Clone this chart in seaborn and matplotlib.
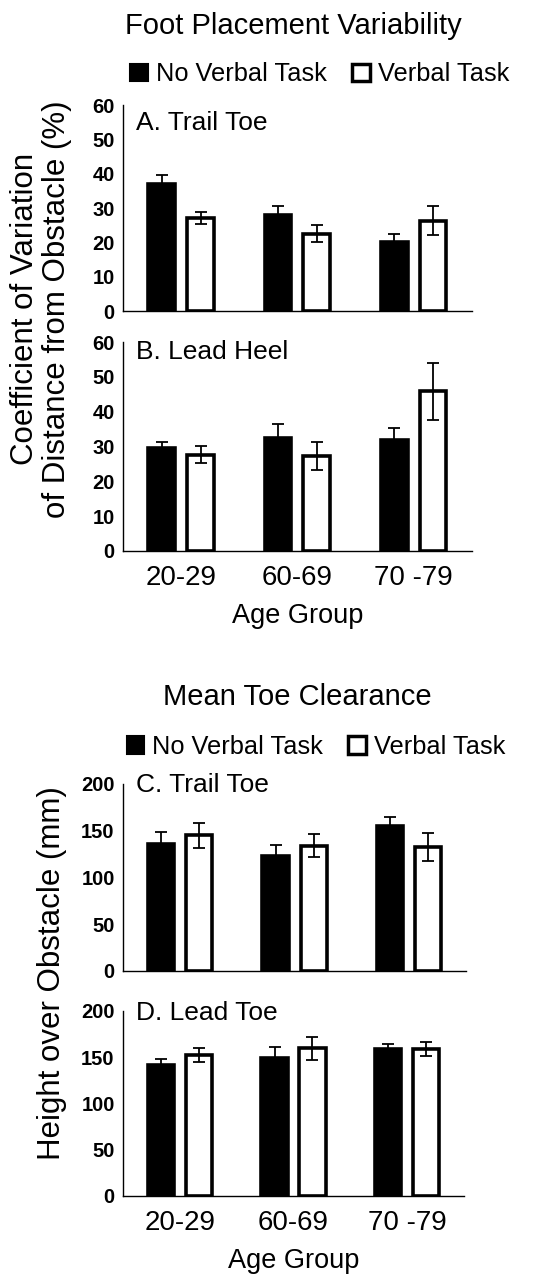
import numpy as np
import pandas as pd
import matplotlib
matplotlib.use("Agg")
import matplotlib.pyplot as plt
from matplotlib.patches import Patch
import seaborn as sns

sns.set_style("white")
plt.rcParams['font.family'] = ['Liberation Sans', 'DejaVu Sans']
plt.rcParams['text.color'] = 'black'
plt.rcParams['axes.labelcolor'] = 'black'
plt.rcParams['xtick.color'] = 'black'
plt.rcParams['ytick.color'] = 'black'

age_groups = ["20-29", "60-69", "70 -79"]
conditions = ["No Verbal Task", "Verbal Task"]

# foot placement variability (CV %)
trail_toe_cv = [37.0, 27.0, 28.0, 22.5, 20.0, 26.3]
trail_toe_cv_err = [2.7, 1.7, 2.5, 2.5, 2.5, 4.3]
lead_heel_cv = [29.5, 27.7, 32.3, 27.3, 31.8, 45.8]
lead_heel_cv_err = [1.8, 2.3, 4.3, 4.0, 3.5, 8.3]

# mean toe clearance (mm)
trail_toe_h = [136.0, 145.0, 123.0, 134.0, 155.5, 133.0]
trail_toe_h_err = [12.5, 13.0, 12.0, 12.0, 9.5, 15.0]
lead_toe_h = [141.5, 152.0, 149.0, 159.5, 158.5, 159.3]
lead_toe_h_err = [6.5, 7.7, 11.5, 12.0, 5.7, 7.5]

panels = [
    ("A. Trail Toe", trail_toe_cv, trail_toe_cv_err, 60, 10, [0.220, 0.7572, 0.624, 0.1608], 0.913),
    ("B. Lead Heel", lead_heel_cv, lead_heel_cv_err, 60, 10, [0.220, 0.5699, 0.624, 0.1631], 0.952),
    ("C. Trail Toe", trail_toe_h, trail_toe_h_err, 200, 50, [0.220, 0.2420, 0.614, 0.1460], 0.995),
    ("D. Lead Toe", lead_toe_h, lead_toe_h_err, 200, 50, [0.220, 0.0664, 0.610, 0.1444], 0.990),
]

fig = plt.figure(figsize=(5.59, 12.81), dpi=100)

for i, (label, vals, errs, ymax, step, rect, ly) in enumerate(panels):
    ax = fig.add_axes(rect)
    df = pd.DataFrame({
        "age": np.repeat(age_groups, 2),
        "cond": conditions * 3,
        "val": vals,
        "err": errs,
    })
    sns.barplot(data=df, x="age", y="val", hue="cond", order=age_groups,
                hue_order=conditions, palette=["black", "white"],
                edgecolor="black", linewidth=2.6, width=0.667, gap=0.31,
                errorbar=None, legend=False, ax=ax)
    # error bars at the bar centres seaborn placed
    bars = ax.patches
    for j, cond in enumerate(conditions):
        sub = df[df["cond"] == cond]
        xs = [p.get_x() + p.get_width() / 2 for p in bars[j * 3:(j + 1) * 3]]
        ax.errorbar(xs, sub["val"], yerr=sub["err"], fmt="none",
                    ecolor="black", elinewidth=1.3, capsize=4, capthick=1.3)

    ax.set_xlim(-0.5, 2.5)
    ax.set_ylim(0, ymax)
    ax.set_yticks(np.arange(0, ymax + 1, step))
    ax.set_xticks([-0.5, 0.5, 1.5, 2.5], minor=True)
    ax.tick_params(axis="x", which="major", length=0, pad=10, labelsize=20)
    ax.tick_params(axis="x", which="minor", length=5, width=1, direction="out")
    ax.tick_params(axis="y", length=4, width=1, direction="out", pad=2, labelsize=14.5)
    for t in ax.get_yticklabels():
        t.set_fontweight("bold")
    sns.despine(ax=ax)
    for s in ["left", "bottom"]:
        ax.spines[s].set_linewidth(1)
        ax.spines[s].set_color("black")
    ax.set_ylabel("")
    if i in (1, 3):
        ax.set_xlabel("Age Group", fontsize=19.5, labelpad=9)
    else:
        ax.set_xlabel("")
        ax.set_xticklabels([])
    ax.text(0.037, ly, label, transform=ax.transAxes, fontsize=19,
            ha="left", va="center")

handles = [Patch(facecolor="black", edgecolor="black", linewidth=1.5),
           Patch(facecolor="white", edgecolor="black", linewidth=2.5)]

fig.text(0.525, 0.980, "Foot Placement Variability", fontsize=21, ha="center", va="center")
fig.legend(handles, conditions, loc="center", bbox_to_anchor=(0.572, 0.942),
           ncol=2, frameon=False, fontsize=18.3, handlelength=0.7, handleheight=0.7,
           handletextpad=0.3, columnspacing=1.0, borderpad=0)

fig.text(0.531, 0.456, "Mean Toe Clearance", fontsize=21, ha="center", va="center")
fig.legend(handles, conditions, loc="center", bbox_to_anchor=(0.565, 0.417),
           ncol=2, frameon=False, fontsize=18.3, handlelength=0.7, handleheight=0.7,
           handletextpad=0.3, columnspacing=1.0, borderpad=0)

fig.text(0.073, 0.759, "Coefficient of Variation\nof Distance from Obstacle (%)",
         fontsize=22.5, rotation=90, ha="center", va="center", multialignment="center",
         linespacing=1.1)
fig.text(0.093, 0.2404, "Height over Obstacle (mm)", fontsize=22.5, rotation=90,
         ha="center", va="center")

fig.savefig("out.png", dpi=100)
